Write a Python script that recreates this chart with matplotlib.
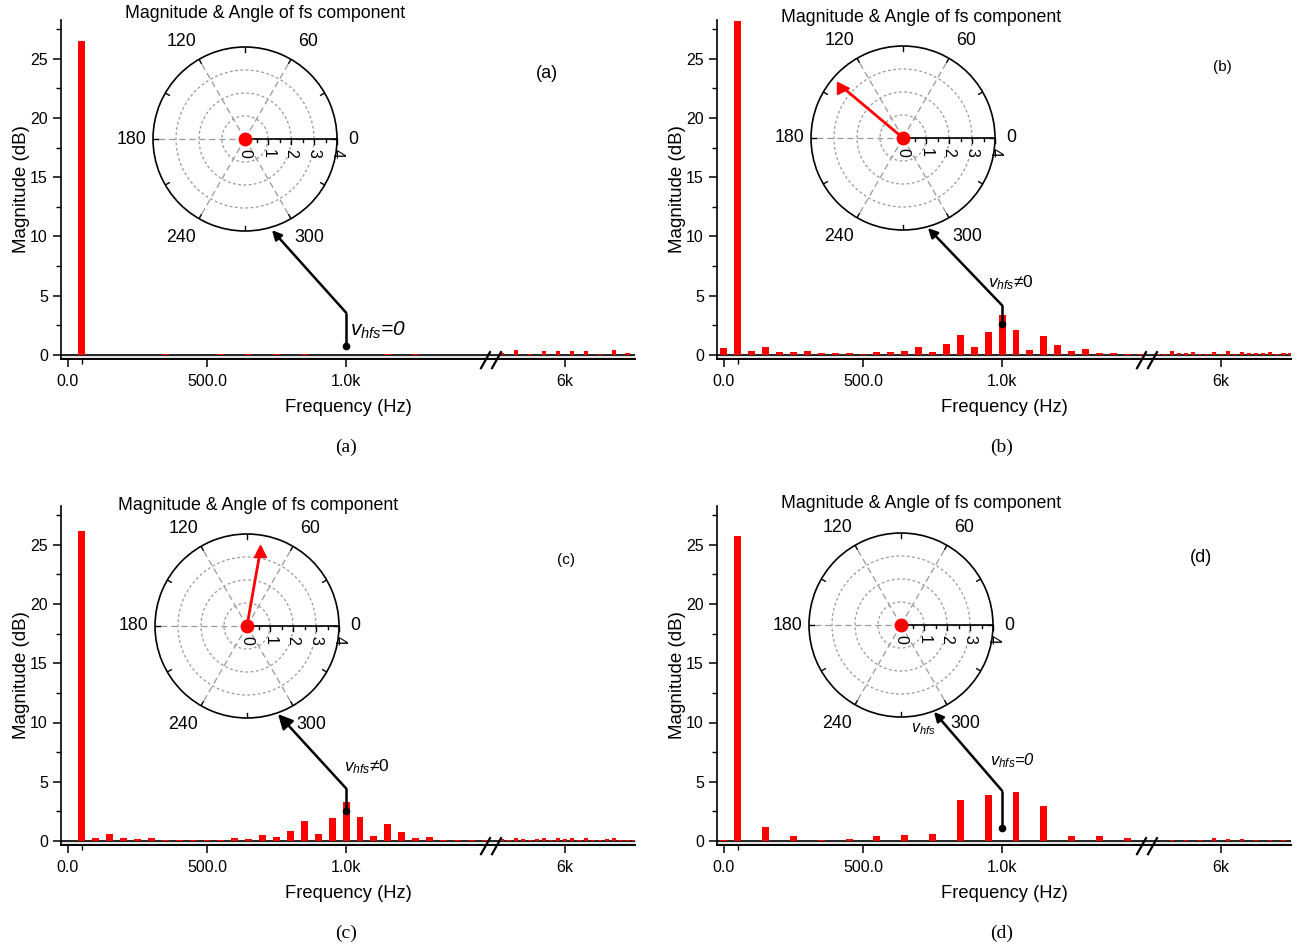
import numpy as np
import matplotlib
matplotlib.use("Agg")
import matplotlib.pyplot as plt
from matplotlib.lines import Line2D

plt.rcParams.update({
    "font.family": ["Liberation Sans", "DejaVu Sans"],
    "mathtext.fontset": "custom",
    "mathtext.it": "Liberation Sans:italic",
    "mathtext.rm": "Liberation Sans",
    "axes.linewidth": 1.2,
})

W, H = 1300, 948

# ---- data: magnitude spectra (dB) ----
f_low = np.arange(0, 1501, 50)
f_high50 = np.arange(5775, 6226, 50)
f_high25 = np.arange(5775, 6251, 25)

mag_a_low = [0.02, 26.5, 0.02, 0.02, 0.02, 0.02, 0.03, 0.06, 0.02, 0.02, 0.03,
             0.05, 0.02, 0.05, 0.03, 0.12, 0.03, 0.05, 0.02, 0.03, 0.02, 0.03,
             0.02, 0.05, 0.02, 0.05, 0.02, 0.02, 0.02, 0.02, 0.02]
mag_a_high = [0.2, 0.4, 0.1, 0.35, 0.35, 0.35, 0.35, 0.1, 0.4, 0.2]

mag_b_low = [0.56, 28.2, 0.36, 0.64, 0.25, 0.22, 0.3, 0.14, 0.17, 0.17, 0.08,
             0.25, 0.22, 0.36, 0.67, 0.28, 0.95, 1.68, 0.67, 1.9, 3.38, 2.15,
             0.45, 1.6, 0.87, 0.3, 0.5, 0.17, 0.17, 0.08, 0.05]
mag_b_high = [0.1, 0.05, 0.3, 0.2, 0.17, 0.25, 0.08, 0.05, 0.28, 0.08, 0.3,
              0.05, 0.25, 0.14, 0.17, 0.17, 0.25, 0.08, 0.14, 0.14]

mag_c_low = [0.04, 26.2, 0.28, 0.6, 0.25, 0.2, 0.25, 0.11, 0.11, 0.06, 0.11,
             0.11, 0.22, 0.17, 0.5, 0.34, 0.84, 1.66, 0.6, 1.94, 3.3, 2.0,
             0.42, 1.43, 0.73, 0.25, 0.36, 0.11, 0.11, 0.06, 0.08]
mag_c_high = [0.15, 0.1, 0.25, 0.14, 0.1, 0.14, 0.28, 0.06, 0.28, 0.14, 0.25,
              0.06, 0.22, 0.1, 0.1, 0.14, 0.22, 0.06, 0.1, 0.1]

mag_d_low = [0.05, 25.7, 0.03, 1.2, 0.02, 0.42, 0.02, 0.1, 0.02, 0.2, 0.02,
             0.39, 0.02, 0.48, 0.02, 0.6, 0.02, 3.5, 0.02, 3.9, 0.02, 4.1,
             0.02, 2.95, 0.02, 0.39, 0.02, 0.39, 0.02, 0.25, 0.02]
mag_d_high = [0.04, 0.08, 0.1, 0.1, 0.25, 0.2, 0.17, 0.08, 0.07, 0.06]

# ---- fs component phasor (magnitude, angle in deg) ----
fs_mag = [0.0, 3.38, 3.3, 0.0]
fs_ang = [0.0, 140.0, 80.0, 0.0]

# ---- annotation (dot / elbow heights, arrow target in polar) ----
ann_text = ["$v_{hfs}$=0", "$v_{hfs}$\u22600", "$v_{hfs}$\u22600", "$v_{hfs}$=0"]
ann_dot = [0.79, 2.65, 2.56, 1.1]
ann_elbow = [3.57, 4.19, 4.44, 4.24]
ann_tip_ang = [286.5, 285.5, 289.4, 290.8]
ann_tip_r = [4.13, 4.06, 4.06, 4.04]

theta_labels = ["0", "60", "120", "180", "240", "300"]

panels = [
    dict(low=mag_a_low, fh=f_high50, high=mag_a_high, tag="(a)"),
    dict(low=mag_b_low, fh=f_high25, high=mag_b_high, tag="(b)"),
    dict(low=mag_c_low, fh=f_high25, high=mag_c_high, tag="(c)"),
    dict(low=mag_d_low, fh=f_high50, high=mag_d_high, tag="(d)"),
]

# layout (pixels)
xs = [(61, 491, 635), (717, 1147, 1291), (61, 491, 635), (717, 1147, 1291)]
y0s = [355, 355, 841, 841]
unit = 11.85
YLO, YHI = -0.35, 28.3
pol_c = [(245, 139), (903, 138), (247, 626), (901, 625)]
R = 92
title_xy = [(265, 13), (921, 17), (258, 505), (921, 503)]
tag_xy = [(547, 73, 13), (1222, 67, 11), (566, 560, 11), (1201, 558, 13)]
ann_xy = [(1014, 2.1, 15), (950, 6.1, 12.5), (993, 6.25, 12.5), (957, 6.8, 12)]
theta_lab_pos = [(0, 4.7), (57, 5.05), (123, 5.05), (180, 4.95), (237, 5.1), (303, 5.1)]
marker_tip = [None, ">", "^", None]
arrow_ms = [14, 14, 22, 14]


def rect(x0, x1, ytop, ybot):
    return [x0 / W, 1 - ybot / H, (x1 - x0) / W, (ybot - ytop) / H]


fig = plt.figure(figsize=(W / 100, H / 100), dpi=100)

for i, p in enumerate(panels):
    xl, xb, xr = xs[i]
    y0 = y0s[i]
    ytop = y0 - YHI * unit
    ybot = y0 - YLO * unit
    axl = fig.add_axes(rect(xl, xb, ytop, ybot))
    axr = fig.add_axes(rect(xb, xr, ytop, ybot))

    axl.bar(f_low, p["low"], width=25, color="#ff0000", zorder=4)
    axr.bar(p["fh"], p["high"], width=15, color="#ff0000", zorder=4)

    for ax in (axl, axr):
        ax.set_ylim(YLO, YHI)
        ax.axhline(0, color="k", lw=1.2, zorder=3)
        ax.axhspan(YLO, 0, color="#e4e4e4", lw=0, zorder=1)
        ax.spines["top"].set_visible(False)
        ax.spines["right"].set_visible(False)
        ax.spines["bottom"].set_linewidth(1.4)
        ax.patch.set_alpha(0)
        ax.tick_params(axis="both", which="major", length=6, width=1.1,
                       labelsize=11.5, direction="out")
        ax.tick_params(axis="both", which="minor", length=3.5, width=1.0,
                       direction="out")
        ax.tick_params(axis="x", pad=5)

    axl.set_xlim(-25, 1521)
    axl.set_xticks([0, 500, 1000])
    axl.set_xticklabels(["0.0", "500.0", "1.0k"])
    axl.set_xticks([50], minor=True)
    axl.set_yticks([0, 5, 10, 15, 20, 25])
    axl.set_yticks(np.arange(2.5, 28, 5), minor=True)
    axl.set_ylabel("Magnitude (dB)", fontsize=13.5, labelpad=0)

    axr.set_xlim(5734, 6252)
    axr.set_xticks([6000])
    axr.set_xticklabels(["6k"])
    axr.spines["left"].set_visible(False)
    axr.set_yticks([])

    # break marks at the junction
    for dx in (-10, 1):
        fig.add_artist(Line2D([(xb + dx) / W, (xb + dx + 9) / W],
                              [1 - (ybot + 9) / H, 1 - (ybot - 7) / H],
                              color="k", lw=1.6))

    fig.text(((xl + xr) / 2) / W, 1 - (ybot + 48) / H, "Frequency (Hz)",
             ha="center", va="center", fontsize=13.2)
    fig.text(title_xy[i][0] / W, 1 - title_xy[i][1] / H,
             "Magnitude & Angle of fs component",
             ha="center", va="center", fontsize=12.8)
    tx, ty, ts = tag_xy[i]
    fig.text(tx / W, 1 - ty / H, p["tag"], ha="center", va="center", fontsize=ts)
    fig.text(((xl + xr) / 2 - 2) / W, 1 - (ybot + 88) / H, p["tag"],
             ha="center", va="center", fontsize=14, family="Liberation Serif")

    # polar inset
    cx, cy = pol_c[i]
    pax = fig.add_axes(rect(cx - R, cx + R, cy - R, cy + R), projection="polar")
    pax.set_ylim(0, 4)
    pax.set_facecolor("none")
    pax.set_xticks(np.deg2rad(np.arange(0, 360, 60)))
    pax.set_xticklabels([])
    pax.tick_params(axis="x", length=0)
    pax.set_yticks([1, 2, 3])
    pax.set_yticklabels([])
    pax.xaxis.grid(True, color="#999999", lw=0.9, ls=(0, (5, 3)))
    pax.yaxis.grid(True, color="#999999", lw=0.9, ls=(0, (2.2, 2)))
    pax.spines["polar"].set_linewidth(1.2)

    # angle ticks on the outer circle, pointing inwards
    for a in np.arange(0, 360, 30):
        pax.plot([np.deg2rad(a)] * 2, [3.8, 4.0], color="k", lw=1.0, zorder=4)

    # radial axis along 0 deg with ticks below
    pax.plot([0, 0], [0, 4], color="k", lw=1.2, zorder=4)
    for rv in np.arange(0, 4.01, 0.5):
        L = 0.2 if rv % 1 == 0 else 0.12
        pax.plot([0, np.arctan2(-L, rv)], [rv, np.hypot(rv, L)],
                 color="k", lw=1.0, zorder=4, clip_on=False)
        if rv % 1 == 0:
            pax.text(np.arctan2(-0.62, rv), np.hypot(rv, 0.62), "%d" % rv,
                     rotation=-90, ha="center", va="center", fontsize=11.5)
    for lab, (ang, rr) in zip(theta_labels, theta_lab_pos):
        pax.text(np.deg2rad(ang), rr, lab, ha="center", va="center",
                 fontsize=12.8)

    th = np.deg2rad(fs_ang[i])
    if fs_mag[i] > 0:
        pax.plot([th, th], [0, fs_mag[i]], color="#ff0000", lw=2.0, zorder=5)
        pax.plot([th], [fs_mag[i]], marker=marker_tip[i], color="#ff0000",
                 ms=8, zorder=6, clip_on=False)
    pax.plot([th], [0], "o", color="#ff0000", ms=9, zorder=7)

    # pointer from the 1 kHz bar to the inset
    axl.plot([1000, 1000], [ann_dot[i], ann_elbow[i]], color="k", lw=1.8,
             zorder=6, solid_capstyle="butt")
    axl.plot([1000], [ann_dot[i]], "o", color="k", ms=4.5, zorder=7)
    axl.annotate("", xy=(np.deg2rad(ann_tip_ang[i]), ann_tip_r[i]),
                 xycoords=pax.transData, xytext=(1000, ann_elbow[i]),
                 textcoords="data", zorder=6,
                 arrowprops=dict(arrowstyle="-|>", color="k", lw=1.8,
                                 mutation_scale=arrow_ms[i],
                                 shrinkA=0, shrinkB=0))
    axx, axy, axs = ann_xy[i]
    axl.text(axx, axy, ann_text[i], ha="left", va="center", fontsize=axs,
             style="italic" if "=" in ann_text[i] else "normal", zorder=8)
    if i == 3:
        axl.text(673, 9.4, "$v_{hfs}$", ha="left", va="center", fontsize=11.5)

fig.savefig("out.png", dpi=100)
